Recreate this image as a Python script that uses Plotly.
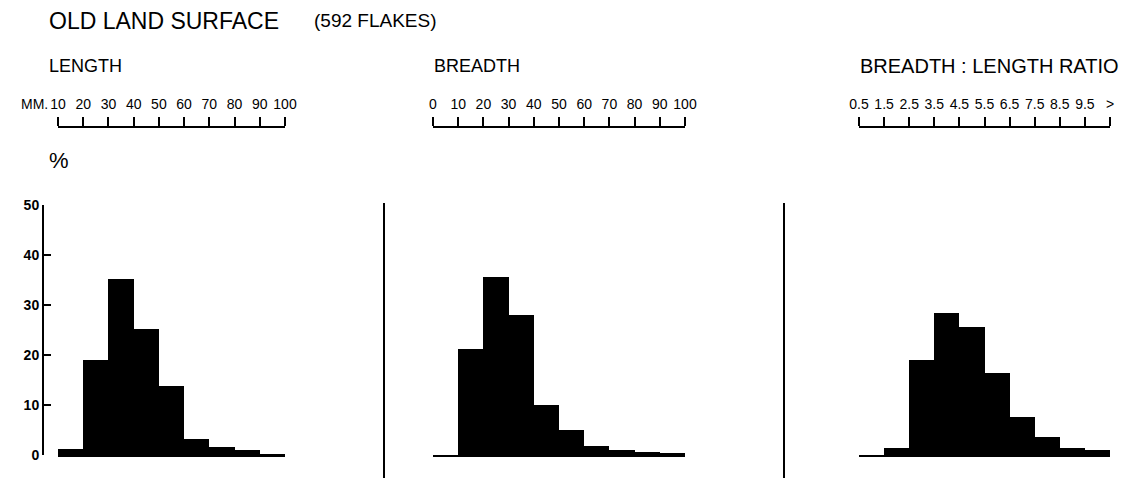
import plotly.graph_objects as go

# Percentage frequencies of flakes from the old land surface
length_edges = [10, 20, 30, 40, 50, 60, 70, 80, 90, 100]
length_pct = [1.3, 19.0, 35.3, 25.3, 13.8, 3.3, 1.7, 1.1, 0.2]

breadth_edges = [0, 10, 20, 30, 40, 50, 60, 70, 80, 90, 100]
breadth_pct = [0.0, 21.2, 35.6, 28.0, 10.0, 5.0, 1.8, 1.0, 0.6, 0.5]

ratio_edges = [0.5, 1.5, 2.5, 3.5, 4.5, 5.5, 6.5, 7.5, 8.5, 9.5, 10.5]
ratio_pct = [0.0, 1.4, 19.0, 28.4, 25.6, 16.4, 7.6, 3.6, 1.4, 1.1]

length_ticks = ["10", "20", "30", "40", "50", "60", "70", "80", "90", "100"]
breadth_ticks = ["0", "10", "20", "30", "40", "50", "60", "70", "80", "90", "100"]
ratio_ticks = ["0.5", "1.5", "2.5", "3.5", "4.5", "5.5", "6.5", "7.5", "8.5", "9.5", ">"]
pct_ticks = [0, 10, 20, 30, 40, 50]

W, H = 1121, 478
FONT = "Liberation Sans, Arial, Helvetica, sans-serif"


def px(x):
    return x / W


def py(y):
    return 1 - y / H


def centres(edges):
    return [(a + b) / 2 for a, b in zip(edges[:-1], edges[1:])]


def widths(edges):
    return [b - a for a, b in zip(edges[:-1], edges[1:])]


panels = [
    (length_edges, length_pct, length_ticks, (58, 285)),
    (breadth_edges, breadth_pct, breadth_ticks, (433, 685)),
    (ratio_edges, ratio_pct, ratio_ticks, (859, 1110)),
]

fig = go.Figure()
layout = dict(
    width=W, height=H,
    margin=dict(l=0, r=0, t=0, b=0, autoexpand=False),
    paper_bgcolor="white", plot_bgcolor="white",
    showlegend=False, bargap=0,
    font=dict(family=FONT, color="black"),
)

ydom = [py(455), py(205)]

for i, (edges, vals, ticks, (x0, x1)) in enumerate(panels):
    n = i + 1
    xa = "x" if n == 1 else f"x{n}"
    ya = "y" if n == 1 else f"y{n}"
    fig.add_trace(go.Bar(
        x=centres(edges), y=vals, width=widths(edges),
        marker=dict(color="black", line=dict(width=0)),
        xaxis=xa, yaxis=ya, hoverinfo="skip",
    ))
    # empty trace so the ruler axis gets drawn
    fig.add_trace(go.Scatter(x=[], y=[], xaxis=f"x{n + 3}", yaxis=ya,
                             hoverinfo="skip"))
    dom = [px(x0), px(x1)]
    rng = [edges[0], edges[-1]]
    # histogram baseline
    layout[f"xaxis{'' if n == 1 else n}"] = dict(
        domain=dom, range=rng, anchor=ya, showline=True, linewidth=2,
        linecolor="black", showgrid=False, zeroline=False,
        showticklabels=False, ticks="", fixedrange=True,
    )
    # graduated ruler above each histogram
    layout[f"xaxis{n + 3}"] = dict(
        domain=dom, range=rng, overlaying=xa, side="top", anchor="free",
        position=py(127), showline=True, linewidth=1.5, linecolor="black",
        ticks="outside", ticklen=9, tickwidth=1.5, tickcolor="black",
        tickvals=edges, ticktext=ticks, showgrid=False, zeroline=False,
        tickfont=dict(size=14, family=FONT, color="black"),
        ticklabelstandoff=3, fixedrange=True,
    )
    if n == 1:
        layout["yaxis"] = dict(
            domain=ydom, range=[0, 50], anchor="free", position=px(43),
            showline=True, linewidth=2, linecolor="black",
            ticks="inside", ticklen=7, tickwidth=2, tickcolor="black",
            tickvals=pct_ticks, showgrid=False, zeroline=False,
            tickfont=dict(size=14, family=FONT, color="black", weight="bold"),
            ticklabelstandoff=0, fixedrange=True,
        )
    else:
        layout[f"yaxis{n}"] = dict(
            domain=ydom, range=[0, 50], anchor=xa, visible=False,
            fixedrange=True,
        )

fig.update_layout(**layout)

# panel dividers
for xs in (384, 784):
    fig.add_shape(type="line", xref="paper", yref="paper",
                  x0=px(xs), x1=px(xs), y0=py(203), y1=0,
                  line=dict(color="black", width=2))

texts = [
    ("OLD LAND SURFACE", 47, 21, 23),
    ("(592 FLAKES)", 312, 21, 19),
    ("LENGTH", 47, 66, 18),
    ("BREADTH", 432, 66, 18),
    ("BREADTH : LENGTH RATIO", 858, 66, 20),
    ("%", 47, 161, 22),
]
for t, x, y, s in texts:
    fig.add_annotation(text=t, x=px(x), y=py(y), xref="paper", yref="paper",
                       xanchor="left", yanchor="middle", showarrow=False,
                       font=dict(size=s, family=FONT, color="black"))

fig.add_annotation(text="MM.", x=px(50), y=py(104), xref="paper", yref="paper",
                   xanchor="right", yanchor="middle", showarrow=False,
                   font=dict(size=14, family=FONT, color="black"))

fig.write_html("out.html")
